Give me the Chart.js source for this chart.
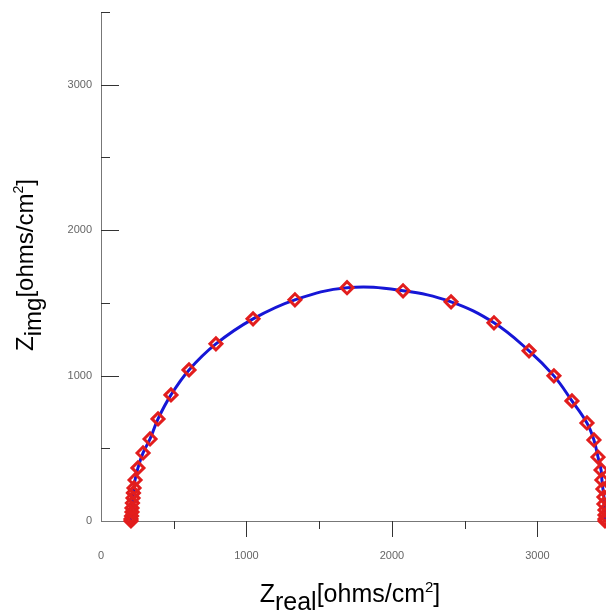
<!DOCTYPE html>
<html lang="en">
<head>
    <meta charset="UTF-8">
    <title>Nyquist plot</title>
    <script src="https://cdn.jsdelivr.net/npm/chart.js"></script>
    <style>
        body {
            margin: 0;
            background: #ffffff;
        }
        canvas {
            display: block;
        }
    </style>
</head>
<body>

    <canvas id="nyquist" width="606" height="611"></canvas>

    <script>
        // values, high frequency (left) to low frequency (right)
        const zReal = [206, 206, 210, 213, 213, 216, 220, 223, 227, 234, 254, 289, 337, 392, 481, 605, 790,
                       1045, 1333, 1691, 2076, 2406, 2701, 2942, 3113, 3237, 3340, 3388, 3416, 3437, 3443,
                       3450, 3457, 3457, 3464, 3464, 3464, 3464];
        const zImg = [0, 14, 34, 62, 89, 124, 158, 193, 227, 282, 365, 468, 564, 702, 867, 1039, 1218,
                      1390, 1521, 1604, 1583, 1507, 1363, 1170, 998, 826, 674, 557, 440, 351, 282,
                      220, 165, 117, 76, 41, 14, 0];

        const xTicks = [0, 1000, 2000, 3000];
        const yTicks = [0, 1000, 2000, 3000];
        const minorStep = 500;

        const FONT = '"Liberation Sans", Arial, sans-serif';

        // tick marks: x ticks hang below the axis, y ticks point into the plot
        const tickMarks = {
            id: 'tickMarks',
            afterDraw(chart) {
                const ctx = chart.ctx;
                const xs = chart.scales.x, ys = chart.scales.y;
                const x0 = xs.left, y0 = ys.bottom;
                ctx.save();
                ctx.strokeStyle = '#333';
                ctx.lineWidth = 1;
                ctx.beginPath();
                for (let v = minorStep; v <= xs.max; v += minorStep) {
                    const px = Math.round(xs.getPixelForValue(v)) + 0.5;
                    const len = v % 1000 === 0 ? 16 : 8;
                    ctx.moveTo(px, y0);
                    ctx.lineTo(px, y0 + len);
                }
                for (let v = minorStep; v <= ys.max; v += minorStep) {
                    const py = Math.round(ys.getPixelForValue(v)) + 0.5;
                    const len = v % 1000 === 0 ? 18 : 9;
                    ctx.moveTo(x0, py);
                    ctx.lineTo(x0 + len, py);
                }
                ctx.stroke();
                ctx.restore();
            }
        };

        // axis titles with sub- and superscripts
        function richWidth(ctx, parts) {
            let w = 0;
            parts.forEach(p => {
                ctx.font = (p.size || 25) + 'px ' + FONT;
                w += ctx.measureText(p.t).width;
            });
            return w;
        }

        function drawRich(ctx, parts, cx, baseY) {
            let x = cx - richWidth(ctx, parts) / 2;
            parts.forEach(p => {
                ctx.font = (p.size || 25) + 'px ' + FONT;
                ctx.fillText(p.t, x, baseY + (p.dy || 0));
                x += ctx.measureText(p.t).width;
            });
        }

        const axisTitles = {
            id: 'axisTitles',
            afterDraw(chart) {
                const ctx = chart.ctx;
                ctx.save();
                ctx.fillStyle = '#000';
                ctx.textAlign = 'left';
                ctx.textBaseline = 'alphabetic';
                drawRich(ctx, [
                    { t: 'Z' }, { t: 'real', dy: 8 }, { t: '[ohms/cm' },
                    { t: '2', size: 15, dy: -10 }, { t: ']' }
                ], 350, 602);
                ctx.translate(33, 265);
                ctx.rotate(-Math.PI / 2);
                drawRich(ctx, [
                    { t: 'Z', size: 24 }, { t: 'img', size: 24, dy: 8 }, { t: '[ohms/cm', size: 24 },
                    { t: '2', size: 14, dy: -10 }, { t: ']', size: 24 }
                ], 0, 0);
                ctx.restore();
            }
        };

        const points = zReal.map((x, i) => ({ x: x, y: zImg[i] }));

        new Chart(document.getElementById('nyquist'), {
            type: 'line',
            data: {
                datasets: [{
                    data: points,
                    borderColor: '#1616d6',
                    borderWidth: 3,
                    tension: 0.4,
                    fill: false,
                    clip: false,
                    pointStyle: 'rectRot',
                    pointRadius: 6,
                    pointBorderWidth: 3,
                    pointBorderColor: '#e21d1d',
                    pointBackgroundColor: 'rgba(0,0,0,0)'
                }]
            },
            options: {
                responsive: false,
                animation: false,
                devicePixelRatio: 1,
                layout: { autoPadding: false, padding: { top: 12, left: 0, right: 0, bottom: 0 } },
                plugins: {
                    legend: { display: false },
                    tooltip: { enabled: false }
                },
                scales: {
                    x: {
                        type: 'linear',
                        min: 0,
                        max: 3471,
                        grid: { display: false, drawTicks: false, tickLength: 0 },
                        border: { display: true, color: '#777', width: 1 },
                        ticks: {
                            padding: 28,
                            color: '#666',
                            font: { family: FONT, size: 11 },
                            maxRotation: 0,
                            callback: v => String(v)
                        },
                        afterBuildTicks: s => { s.ticks = xTicks.map(v => ({ value: v })); },
                        afterFit: s => {
                            s.height = 90;
                            s.paddingLeft = 0;
                            s.paddingRight = 0;
                        }
                    },
                    y: {
                        type: 'linear',
                        min: 0,
                        max: 3500,
                        grid: { display: false, drawTicks: false, tickLength: 0 },
                        border: { display: true, color: '#777', width: 1 },
                        ticks: {
                            padding: 9,
                            color: '#666',
                            font: { family: FONT, size: 11 },
                            callback: v => String(v)
                        },
                        afterBuildTicks: s => { s.ticks = yTicks.map(v => ({ value: v })); },
                        afterFit: s => {
                            s.width = 101;
                            s.paddingTop = 0;
                            s.paddingBottom = 0;
                        }
                    }
                }
            },
            plugins: [tickMarks, axisTitles]
        });
    </script>

</body>
</html>
